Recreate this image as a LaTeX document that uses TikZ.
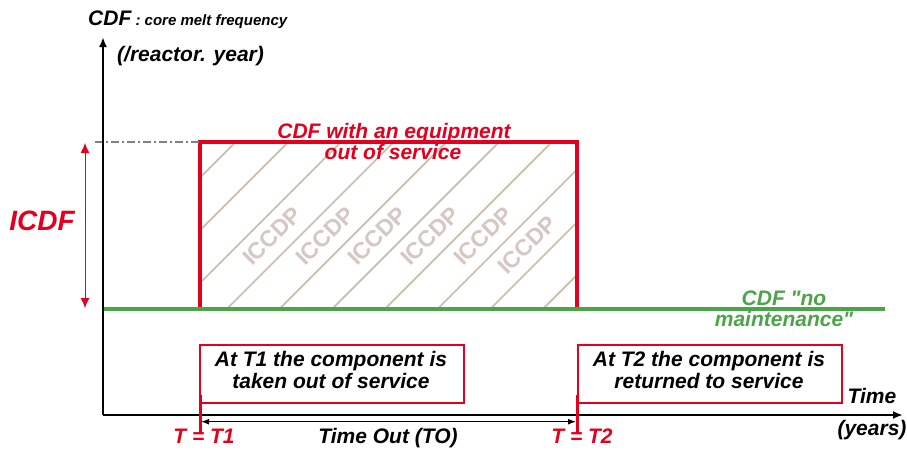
\documentclass[tikz,border=0pt]{standalone}
\usepackage{fontspec}
\setmainfont{Liberation Sans}
\newfontfamily\qfont{Liberation Sans}
\usetikzlibrary{arrows.meta}
\definecolor{cred}{RGB}{226,0,30}
\definecolor{cgreen}{RGB}{76,164,72}
\definecolor{hatchc}{RGB}{200,190,170}
\definecolor{wmc}{RGB}{214,198,196}
\begin{document}
\begin{tikzpicture}[x=1pt,y=-1pt,
  lbl/.style={font=\fontsize{21}{21}\selectfont\bfseries\itshape, inner sep=0pt, anchor=base},
  redlbl/.style={lbl, text=cred},
  greenlbl/.style={lbl, text=cgreen},
  wm/.style={font=\fontsize{23}{23}\selectfont\bfseries, text=wmc, inner sep=0pt, rotate=45},
  box/.style={draw=cred, line width=1.5pt, inner sep=0pt, anchor=north west},
  axis/.style={line width=2pt, -{Latex[length=10pt,width=8pt]}},
  dblred/.style={cred, line width=1pt, {Latex[length=10pt,width=9pt]}-{Latex[length=10pt,width=9pt]}},
  dblblk/.style={black, line width=1.3pt, {Latex[length=8pt,width=6pt]}-{Latex[length=8pt,width=6pt]}},
  tick/.style={cred, line width=3pt}
]
\useasboundingbox (0,0) rectangle (907,450);
\fill[white] (0,0) rectangle (907,450);

% coordinates
\coordinate (O) at (103,415);
\coordinate (Ytop) at (103,37);
\coordinate (Xend) at (903,415);
\coordinate (G0) at (103,309);
\coordinate (G1) at (885,309);
\coordinate (R1) at (200,309);
\coordinate (R2) at (200,142);
\coordinate (R3) at (577,142);
\coordinate (R4) at (577,309);
\coordinate (D0) at (95,142);
\coordinate (I0) at (85,143);
\coordinate (I1) at (85,308);
\coordinate (K1a) at (200,395);
\coordinate (K1b) at (200,434);
\coordinate (K2a) at (577,395);
\coordinate (K2b) at (577,434);
\coordinate (T1) at (201,421.7);
\coordinate (T2) at (576,421.7);

% hatching
\begin{scope}
  \clip (200,142) rectangle (577,309);
  \foreach \k in {-4,...,7} {
    \draw[hatchc, line width=1.7pt] ({226.7+52.7*\k},309) -- ++(230,-230);
  }
\end{scope}

% watermark texts
\foreach \xx/\yy [count=\i] in {272/236, 325/236, 377/236, 430/236, 483/236, 527/245}
  \node[wm] (w\i) at (\xx,\yy) {ICCDP};

% red rectangle
\draw[cred, line width=3.5pt] (R1) -- (R2) -- (R3) -- (R4);

% dash-dot level
\draw[gray, line width=1.2pt, dash pattern=on 8pt off 3pt on 2pt off 3pt] (D0) -- (R2);

% green baseline
\draw[cgreen, line width=4pt] (G0) -- (G1);

% ICDF arrow
\draw[dblred] (I0) -- (I1);

% axes
\draw[axis] (O) -- (Ytop);
\draw[axis] (O) -- (Xend);

% boxes
\node[box, minimum width=264pt, minimum height=58pt] (b1) at (199,344) {};
\node[box, minimum width=264pt, minimum height=58pt] (b2) at (577,344) {};

% ticks
\draw[tick] (K1a) -- (K1b);
\draw[tick] (K2a) -- (K2b);

% TO arrow
\draw[dblblk] (T1) -- (T2);

% texts
\node[inner sep=0pt, anchor=base west, font=\bfseries\itshape] (cdf) at (88,25)
  {\fontsize{21}{21}\selectfont CDF\fontsize{15}{15}\selectfont\ : core melt frequency};
\node[lbl, anchor=base west] (unit) at (117,61) {(/reactor. year)};
\node[redlbl, font=\fontsize{28}{28}\selectfont\bfseries\itshape] (icdf) at (42,230) {ICDF};
\node[redlbl] (eq1) at (394,138) {CDF with an equipment};
\node[redlbl] (eq2) at (393,159) {out of service};
\node[greenlbl] (nm1) at (784,305) {CDF {\qfont "}no};
\node[greenlbl] (nm2) at (784,326.7) {maintenance{\qfont "}};
\node[lbl] (b1l1) at (331,366.7) {At T1 the component is};
\node[lbl] (b1l2) at (331,388) {taken out of service};
\node[lbl] (b2l1) at (709,366.7) {At T2 the component is};
\node[lbl] (b2l2) at (709,388) {returned to service};
\node[lbl] (time) at (872,403) {Time};
\node[lbl] (years) at (872,435) {(years)};
\node[redlbl] (tt1) at (204,443) {T = T1};
\node[lbl] (to) at (388,443) {Time Out (TO)};
\node[redlbl] (tt2) at (582,443) {T = T2};
\end{tikzpicture}
\end{document}
